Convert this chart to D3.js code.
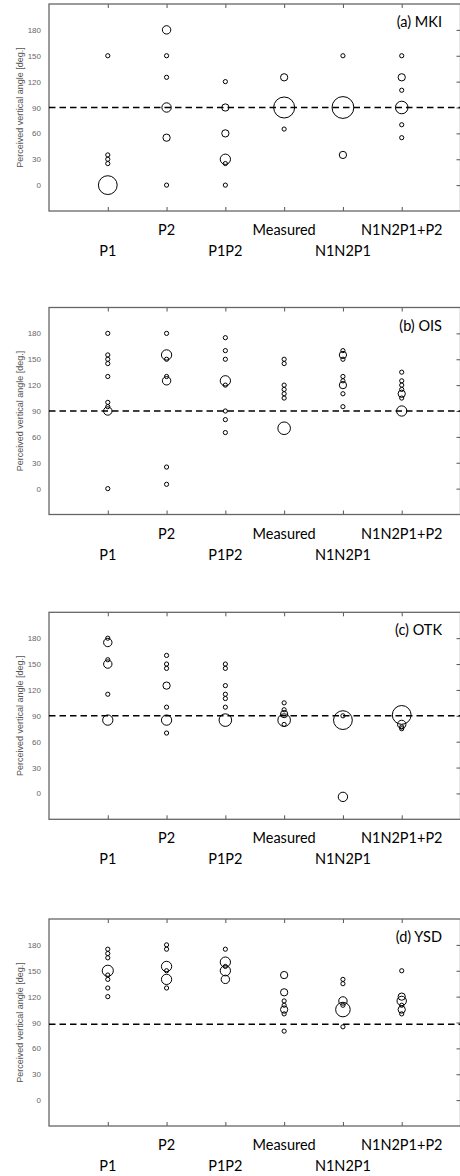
<!DOCTYPE html>
<html>
<head>
<meta charset="utf-8">
<script src="https://cdn.jsdelivr.net/npm/d3@7"></script>
<style>
  body { margin: 0; background: #fff; }
  svg { display: block; }
</style>
</head>
<body>
<div id="chart"></div>
<script>
// categories on the x axis, angle ticks on the y axis
var categories = ["P1", "P2", "P1P2", "Measured", "N1N2P1", "N1N2P1+P2"];
var yTicks = [0, 30, 60, 90, 120, 150, 180];
var panelLabels = ["(a) MKI", "(b) OIS", "(c) OTK", "(d) YSD"];
var refAngles = [90, 90, 90, 88];

// each row: [category index, perceived angle, number of answers]
var mkiPoints = [
    [1, 150, 1], [1, 35, 1], [1, 30, 1], [1, 25, 1], [1, 0, 20],
    [2, 180, 4], [2, 150, 1], [2, 125, 1], [2, 90, 5], [2, 55, 3], [2, 0, 1],
    [3, 120, 1], [3, 90, 3], [3, 60, 3], [3, 30, 6], [3, 25, 1], [3, 0, 1],
    [4, 125, 3], [4, 90, 25], [4, 65, 1],
    [5, 150, 1], [5, 90, 27], [5, 35, 3],
    [6, 150, 1], [6, 125, 3], [6, 110, 1], [6, 90, 9], [6, 70, 1], [6, 55, 1]
];
var oisPoints = [
    [1, 180, 1], [1, 155, 1], [1, 150, 1], [1, 145, 1], [1, 130, 1], [1, 100, 1], [1, 95, 1], [1, 90, 4], [1, 0, 1],
    [2, 180, 1], [2, 155, 6], [2, 150, 1], [2, 130, 1], [2, 125, 4], [2, 25, 1], [2, 5, 1],
    [3, 175, 1], [3, 160, 1], [3, 150, 1], [3, 125, 6], [3, 120, 1], [3, 90, 1], [3, 80, 1], [3, 65, 1],
    [4, 150, 1], [4, 145, 1], [4, 120, 1], [4, 115, 1], [4, 110, 1], [4, 105, 1], [4, 70, 9],
    [5, 160, 1], [5, 155, 3], [5, 150, 1], [5, 130, 1], [5, 125, 1], [5, 120, 3], [5, 110, 1], [5, 95, 1],
    [6, 135, 1], [6, 125, 1], [6, 120, 1], [6, 115, 1], [6, 110, 3], [6, 105, 1], [6, 90, 6]
];
var otkPoints = [
    [1, 180, 1], [1, 175, 4], [1, 155, 1], [1, 150, 4], [1, 115, 1], [1, 85, 6],
    [2, 160, 1], [2, 150, 1], [2, 145, 1], [2, 125, 3], [2, 100, 1], [2, 85, 6], [2, 70, 1],
    [3, 150, 1], [3, 145, 1], [3, 125, 1], [3, 115, 1], [3, 110, 1], [3, 100, 1], [3, 85, 9],
    [4, 105, 1], [4, 97, 1], [4, 92, 3], [4, 85, 9], [4, 80, 1],
    [5, 90, 1], [5, 85, 20], [5, -4, 5],
    [6, 91, 20], [6, 80, 4], [6, 77, 1], [6, 75, 1]
];
var ysdPoints = [
    [1, 175, 1], [1, 170, 1], [1, 165, 1], [1, 150, 7], [1, 145, 1], [1, 140, 1], [1, 130, 1], [1, 120, 1],
    [2, 180, 1], [2, 175, 1], [2, 155, 6], [2, 150, 1], [2, 140, 6], [2, 130, 1],
    [3, 175, 1], [3, 160, 6], [3, 155, 1], [3, 150, 6], [3, 140, 4],
    [4, 145, 3], [4, 125, 3], [4, 115, 1], [4, 110, 1], [4, 105, 3], [4, 100, 1], [4, 80, 1],
    [5, 140, 1], [5, 135, 1], [5, 115, 4], [5, 110, 1], [5, 105, 12], [5, 85, 1],
    [6, 150, 1], [6, 120, 3], [6, 115, 5], [6, 110, 1], [6, 105, 3], [6, 100, 1]
];
var panels = [mkiPoints, oisPoints, otkPoints, ysdPoints];

var svgWidth = 460, svgHeight = 1176;
var panelTops = [4, 307.5, 612.3, 919];
var plotHeight = 207;
var left = 49, right = 460.5;

var svg = d3.select("#chart")
    .append("svg")
    .attr("width", svgWidth)
    .attr("height", svgHeight);

var xScale = d3.scaleLinear()
    .domain([0, categories.length + 1])
    .range([left, right]);

var rScale = d3.scaleSqrt()
    .domain([0, 1])
    .range([0, 2.1]);

var catPositions = categories.map(function(c, i) { return i + 1; });

panels.forEach(function(points, p) {

    var top = panelTops[p];
    var bottom = top + plotHeight;

    var yScale = d3.scaleLinear()
        .domain([-30, 210])
        .range([bottom, top]);

    var g = svg.append("g");

    // y tick labels
    var leftAxis = d3.axisLeft(yScale)
        .tickValues(yTicks)
        .tickSize(0)
        .tickPadding(8);
    var yAxis = g.append("g")
        .attr("transform", `translate(${left}, 0)`)
        .call(leftAxis);
    yAxis.select(".domain").remove();
    yAxis.selectAll("text")
        .attr("font-family", "Liberation Sans, Arial, sans-serif")
        .attr("font-size", "8px")
        .attr("fill", "#666");

    // inner ticks on right, top and bottom
    var rightTicks = g.append("g")
        .attr("transform", `translate(${right}, 0)`)
        .call(d3.axisLeft(yScale).tickValues(yTicks).tickSize(4).tickFormat(""));
    rightTicks.select(".domain").remove();

    var topTicks = g.append("g")
        .attr("transform", `translate(0, ${top})`)
        .call(d3.axisBottom(xScale).tickValues(catPositions).tickSize(4).tickFormat(""));
    topTicks.select(".domain").remove();

    var bottomTicks = g.append("g")
        .attr("transform", `translate(0, ${bottom})`)
        .call(d3.axisTop(xScale).tickValues(catPositions).tickSize(4).tickFormat(""));
    bottomTicks.select(".domain").remove();

    g.selectAll(".tick line")
        .attr("stroke", "#555")
        .attr("stroke-width", 1);

    // frame
    g.append("rect")
        .attr("x", left)
        .attr("y", top)
        .attr("width", right - left)
        .attr("height", plotHeight)
        .attr("fill", "none")
        .attr("stroke", "#666")
        .attr("stroke-width", 1.3);

    // y axis title
    g.append("text")
        .attr("transform", `translate(23, ${(top + bottom) / 2}) rotate(-90)`)
        .attr("text-anchor", "middle")
        .attr("font-family", "Liberation Sans, Arial, sans-serif")
        .attr("font-size", "9px")
        .attr("fill", "#555")
        .text("Perceived vertical angle [deg.]");

    // reference line
    g.append("line")
        .attr("x1", left)
        .attr("x2", right)
        .attr("y1", yScale(refAngles[p]))
        .attr("y2", yScale(refAngles[p]))
        .attr("stroke", "#000")
        .attr("stroke-width", 1.4)
        .attr("stroke-dasharray", "6.5,4");

    // bubbles
    g.append("g").selectAll("circle")
        .data(points)
        .enter()
        .append("circle")
        .attr("cx", d => xScale(d[0]))
        .attr("cy", d => yScale(d[1]))
        .attr("r", d => rScale(d[2]))
        .attr("fill", "none")
        .attr("stroke", "#000")
        .attr("stroke-width", 1);

    // category labels, staggered in two rows
    g.append("g").selectAll("text")
        .data(categories)
        .enter()
        .append("text")
        .attr("x", (d, i) => xScale(i + 1))
        .attr("y", (d, i) => i % 2 === 1 ? bottom + 24 : bottom + 45)
        .attr("text-anchor", "middle")
        .attr("font-family", "Lato, sans-serif")
        .attr("font-size", "14.5px")
        .attr("fill", "#000")
        .text(d => d);

    // panel label
    g.append("text")
        .attr("x", 442)
        .attr("y", top + 23)
        .attr("text-anchor", "end")
        .attr("font-family", "Lato, sans-serif")
        .attr("font-size", "14.5px")
        .attr("fill", "#000")
        .text(panelLabels[p]);
});
</script>
</body>
</html>
